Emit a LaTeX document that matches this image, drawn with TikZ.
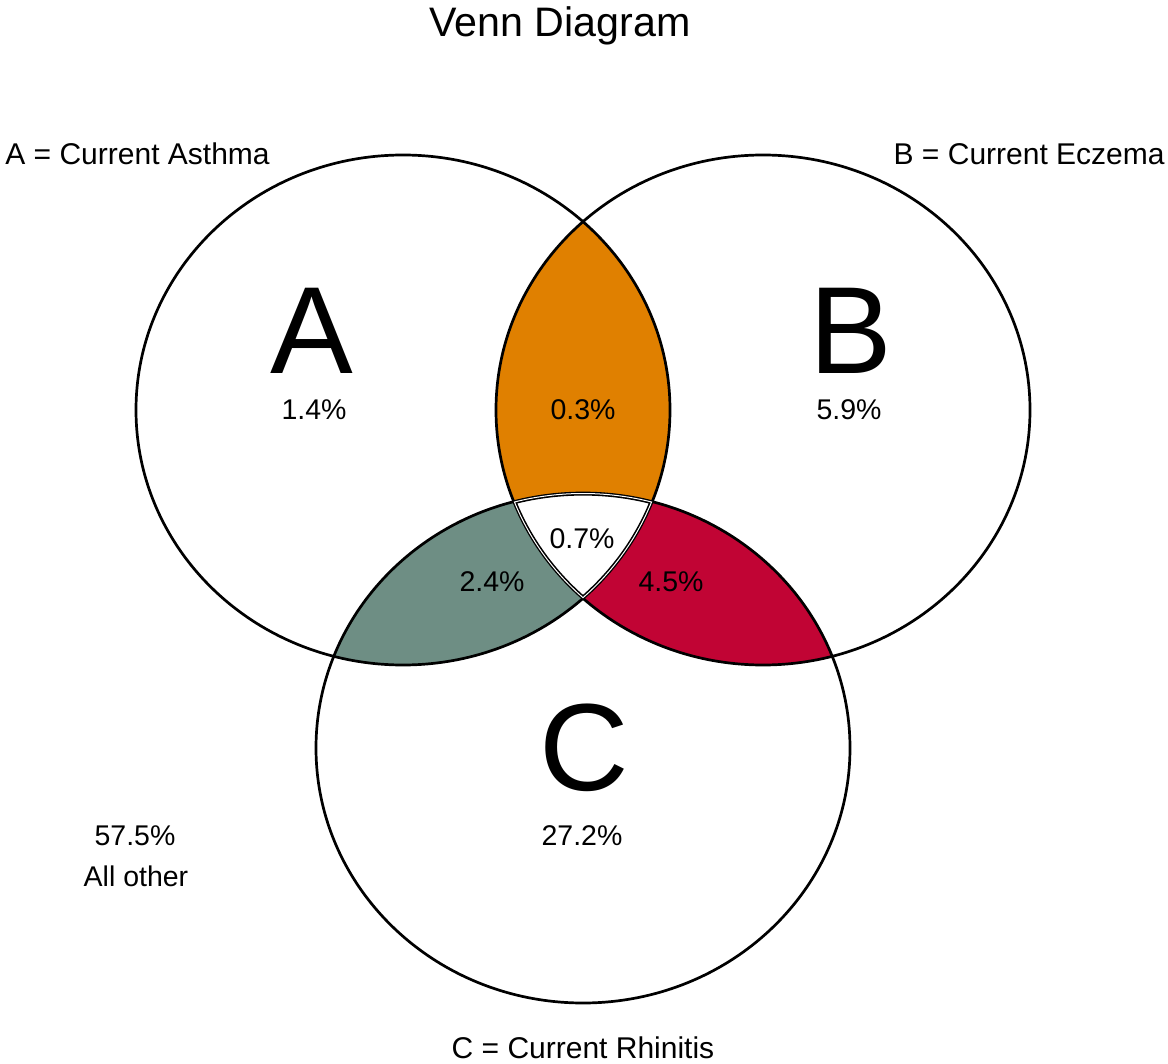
\documentclass[tikz,border=0pt]{standalone}
\usepackage{fontspec}
\setmainfont{Liberation Sans}
\definecolor{abfill}{RGB}{224,128,0}
\definecolor{acfill}{RGB}{110,142,132}
\definecolor{bcfill}{RGB}{193,4,52}
% the three sets, in pixel units (y runs downwards)
\newcommand{\setA}{(403,410) ellipse [x radius=133.5pt, y radius=127.5pt]}
\newcommand{\setB}{(763,410) ellipse [x radius=133.5pt, y radius=127.5pt]}
\newcommand{\setC}{(583,748) ellipse [x radius=133.5pt, y radius=127.5pt]}

\begin{document}
\begin{tikzpicture}[x=0.5pt,y=-0.5pt]
    \tikzset{title/.style={anchor=base,inner sep=0pt,font=\fontsize{20.6}{24}\selectfont}}
    \tikzset{setname/.style={anchor=base,inner sep=0pt,font=\fontsize{15}{18}\selectfont}}
    \tikzset{letter/.style={anchor=base,inner sep=0pt,font=\fontsize{62}{70}\selectfont}}
    \tikzset{share/.style={anchor=base,inner sep=0pt,font=\fontsize{14.25}{17}\selectfont}}
    \tikzset{outline/.style={draw=black,line width=1.35pt}}
    \path[fill=white,use as bounding box] (0,0) rectangle (1168,1064);
    % overlaps
    \begin{scope}
        \clip \setA; \clip \setB;
        \fill[abfill] (0,0) rectangle (1168,1064);
    \end{scope}
    \begin{scope}
        \clip \setA; \clip \setC;
        \fill[acfill] (0,0) rectangle (1168,1064);
    \end{scope}
    \begin{scope}
        \clip \setB; \clip \setC;
        \fill[bcfill] (0,0) rectangle (1168,1064);
    \end{scope}
    \begin{scope}
        \clip \setA; \clip \setB; \clip \setC;
        \fill[white] (0,0) rectangle (1168,1064);
    \end{scope}
    \draw[outline] \setA;
    \draw[outline] \setB;
    \draw[outline] \setC;
    % double edge round the centre
    \begin{scope}
        \clip \setA; \clip \setB; \clip \setC;
        \draw[black,line width=2.6pt] \setA \setB \setC;
        \draw[white,line width=1pt] \setA \setB \setC;
    \end{scope}
    \draw (560,37) node[title](title){Venn Diagram};
    \draw (5,165) node[setname,anchor=base west](nameA){A = Current Asthma};
    \draw (1165,165) node[setname,anchor=base east](nameB){B = Current Eczema};
    \draw (583,1058) node[setname](nameC){C = Current Rhinitis};
    \draw (312,373) node[letter](letA){A};
    \draw (851,373) node[letter](letB){B};
    \draw (584,790) node[letter](letC){C};
    \draw (314,420) node[share](onlyA){1.4\%};
    \draw (849,420) node[share](onlyB){5.9\%};
    \draw (582,845) node[share](onlyC){27.2\%};
    \draw (583,420) node[share](ab){0.3\%};
    \draw (492,591) node[share](ac){2.4\%};
    \draw (671,591) node[share](bc){4.5\%};
    \draw (582,548) node[share](abc){0.7\%};
    \draw (135,845) node[share](rest){57.5\%};
    \draw (136,886) node[share](other){All other};
\end{tikzpicture}
\end{document}
